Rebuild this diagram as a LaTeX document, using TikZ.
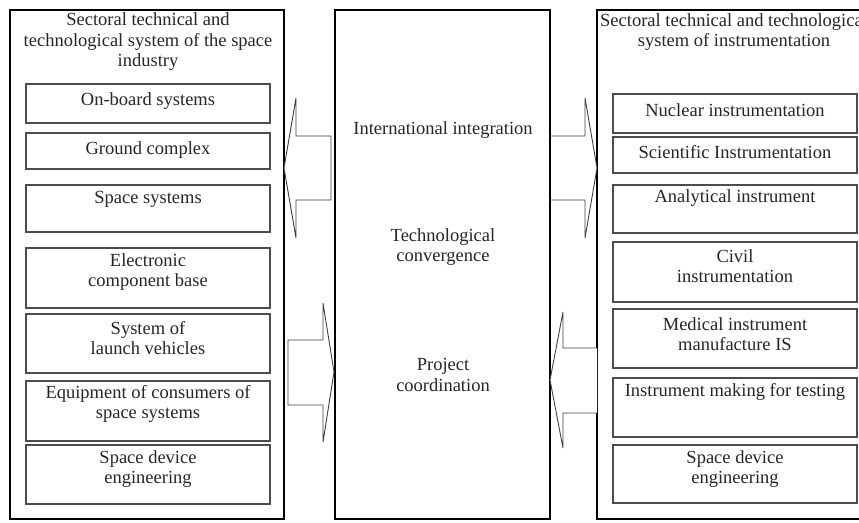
\documentclass[tikz,border=0pt]{standalone}
\usepackage{fontspec}
\setmainfont{Liberation Serif}
\begin{document}
\begin{tikzpicture}[x=1pt,y=-1pt,
    outerbox/.style={draw=black,line width=1.8pt},
    innerbox/.style={draw=black!70,line width=1.3pt},
    blockarrow/.style={draw=black!75,line width=0.9pt,fill=white,line join=miter},
    lbl/.style={text=black!85,align=center,inner sep=0pt,font=\fontsize{18.5}{20.5}\selectfont}]
    \useasboundingbox (0,0) rectangle (859,522);
    \clip (0,0) rectangle (859,522);
    % Sistema espacial (izquierda)
    \draw[outerbox] (10,10) rectangle (284,519);
    \node[lbl] (spacetitle) at (148,42) {Sectoral technical and\\technological system of the space\\industry};
    \draw[innerbox] (26,84) rectangle (270,123);
    \node[lbl] (onboard) at (148,101) {On-board systems};
    \draw[innerbox] (26,133) rectangle (270,169);
    \node[lbl] (ground) at (148,150) {Ground complex};
    \draw[innerbox] (26,185) rectangle (270,232);
    \node[lbl] (spacesys) at (148,199) {Space systems};
    \draw[innerbox] (26,248) rectangle (270,308);
    \node[lbl] (electronic) at (148,272) {Electronic\\component base};
    \draw[innerbox] (26,314) rectangle (270,373);
    \node[lbl] (launch) at (148,338) {System of\\launch vehicles};
    \draw[innerbox] (26,381) rectangle (270,441);
    \node[lbl] (consumers) at (148,404) {Equipment of consumers of\\space systems};
    \draw[innerbox] (26,445) rectangle (270,504);
    \node[lbl] (leftdevice) at (148,469) {Space device\\engineering};
    % Bloque central
    \draw[outerbox] (335,10) rectangle (550,519);
    \node[lbl] (integration) at (443,130) {International integration};
    \node[lbl] (convergence) at (443,247) {Technological\\convergence};
    \node[lbl] (coordination) at (443,375) {Project\\coordination};
    % Sistema de instrumentacion (derecha)
    \draw[outerbox] (597,10) rectangle (871,519);
    \node[lbl] (instrtitle) at (734,32) {Sectoral technical and technological\\system of instrumentation};
    \draw[innerbox] (613,94) rectangle (857,133);
    \node[lbl] (nuclear) at (735,110) {Nuclear instrumentation};
    \draw[innerbox] (613,137) rectangle (857,173);
    \node[lbl] (scientific) at (735,152) {Scientific Instrumentation};
    \draw[innerbox] (613,185) rectangle (857,233);
    \node[lbl] (analytical) at (735,198) {Analytical instrument};
    \draw[innerbox] (613,242) rectangle (857,302);
    \node[lbl] (civil) at (735,266) {Civil\\instrumentation};
    \draw[innerbox] (613,309) rectangle (857,368);
    \node[lbl] (medical) at (735,334) {Medical instrument\\manufacture IS};
    \draw[innerbox] (613,378) rectangle (857,437);
    \node[lbl] (testing) at (735,392) {Instrument making for testing};
    \draw[innerbox] (613,445) rectangle (857,503);
    \node[lbl] (rightdevice) at (735,469) {Space device\\engineering};
    % Flechas superiores
    \draw[blockarrow] (331,136) -- (296,136) -- (296,98) -- (284,168) -- (296,238) -- (296,200) -- (331,200) -- cycle;
    \draw[blockarrow] (551,136) -- (585,136) -- (585,98) -- (597,168) -- (585,238) -- (585,200) -- (551,200);
    % Flechas inferiores
    \draw[blockarrow] (288,340) -- (323,340) -- (323,303) -- (334,372) -- (323,442) -- (323,405) -- (288,405) -- cycle;
    \draw[blockarrow] (597,348) -- (563,348) -- (563,312) -- (550,380) -- (563,448) -- (563,413) -- (597,413);
\end{tikzpicture}
\end{document}
